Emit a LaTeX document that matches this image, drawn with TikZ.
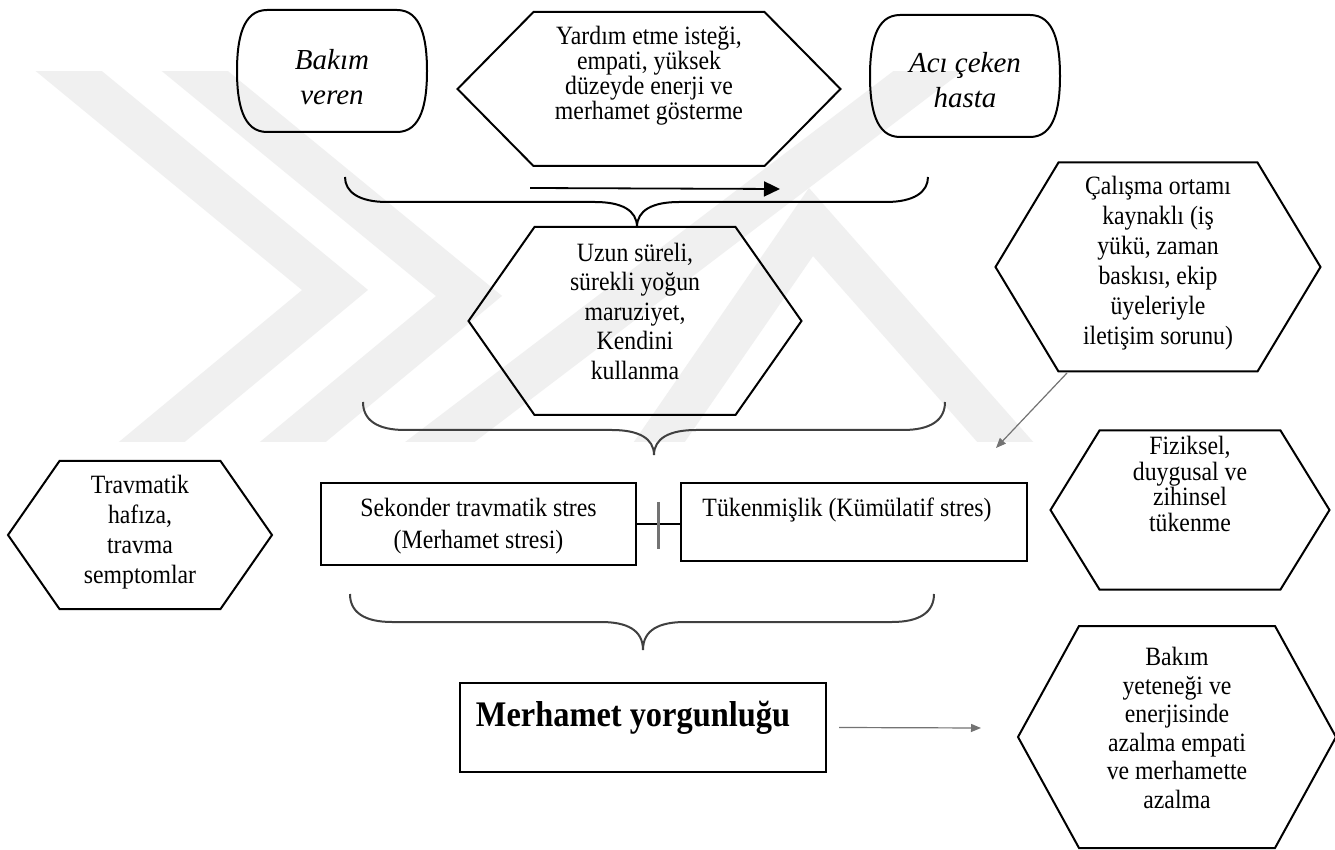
\documentclass[tikz,border=0pt]{standalone}
\usepackage{fontspec}
\setmainfont{Liberation Serif}
\newfontfamily\tallserif[FakeStretch=0.9]{Liberation Serif}
\usetikzlibrary{arrows.meta,calc}
\def\hexagon(#1,#2)(#3:#4:#5){\draw[hexline] ({#1-#4},#2) -- ({#1-#3},{#2-#5}) -- ({#1+#3},{#2-#5}) -- ({#1+#4},#2) -- ({#1+#3},{#2+#5}) -- ({#1-#3},{#2+#5}) -- cycle;}
\def\capsule(#1,#2)(#3:#4){\draw[hexline] ({#1-#3+30},{#2-#4}) -- ({#1+#3-30},{#2-#4}) .. controls ({#1+#3-6},{#2-#4}) and ({#1+#3},{#2-#4+28}) .. ({#1+#3},#2) .. controls ({#1+#3},{#2+#4-28}) and ({#1+#3-6},{#2+#4}) .. ({#1+#3-30},{#2+#4}) -- ({#1-#3+30},{#2+#4}) .. controls ({#1-#3+6},{#2+#4}) and ({#1-#3},{#2+#4-28}) .. ({#1-#3},#2) .. controls ({#1-#3},{#2-#4+28}) and ({#1-#3+6},{#2-#4}) .. cycle;}
\def\curlybrace[#1](#2:#3:#4)(#5:#6:#7){\draw[#1] (#2,#5) .. controls (#2,{#6-10}) and ({#2+14},#6) .. ({#2+42},#6) -- ({#3-42},#6) .. controls ({#3-16},#6) and (#3,{#6+8}) .. (#3,#7) .. controls (#3,{#6+8}) and ({#3+16},#6) .. ({#3+42},#6) -- ({#4-42},#6) .. controls ({#4-14},#6) and (#4,{#6-10}) .. (#4,#5);}
\tikzset{
  hexline/.style={draw, line width=1pt},
  boxline/.style={draw, line width=1.2pt, inner sep=0pt},
  txt/.style={align=center, inner sep=0pt, font=\tallserif\fontsize{13.2}{15}\selectfont},
  italictxt/.style={txt, font=\fontsize{14.5}{17.5}\selectfont\itshape},
  bracepath/.style={line width=1pt, black!75},
  band/.style={line width=21pt, black!6, line join=miter},
  grayarrow/.style={black!55, line width=0.6pt, -{Triangle[length=5pt,width=4pt]}},
}
\begin{document}
\begin{tikzpicture}[x=0.5pt, y=-0.5pt]
  \fill[white] (0,0) rectangle (1335,850);
  \useasboundingbox (0,0) rectangle (1335,850);

  % watermark
  \begin{scope}
    \clip (0,72) rectangle (1335,442);
    \draw[band] (31,40) -- (335,290) -- (118,470);
    \draw[band] (157,40) -- (469,296) -- (259,470);
    \draw[band] (969,40) -- (403,470);
    \draw[band] (640,470) -- (811,222) -- (1030,470);
  \end{scope}

  % top row
  \capsule(332,71)(95:61)
  \node[italictxt] (giver) at (332,77) {Bakım\\veren};
  \hexagon(649,89)(115.5:191.5:77)
  \node[txt, font=\tallserif\fontsize{13.2}{12.5}\selectfont] (wish) at (649,76) {Yardım etme isteği,\\ empati, yüksek\\ düzeyde enerji ve\\ merhamet gösterme};
  \capsule(965,76)(95:61)
  \node[italictxt] (patient) at (965,80) {Acı çeken\\hasta};

  \curlybrace[bracepath, black](345:637:928)(177:202:227)
  \coordinate (flowstart) at (530,188);
  \coordinate (flowend) at (780,189);
  \draw[line width=0.9pt, -{Triangle[length=8pt,width=7.5pt]}] (flowstart) -- (flowend);

  \hexagon(635,321)(100.5:166.5:94)
  \node[txt, font=\tallserif\fontsize{13.2}{14.75}\selectfont] (exposure) at (635,311) {Uzun süreli,\\ sürekli yoğun\\ maruziyet,\\ Kendini\\ kullanma};

  \hexagon(1158,267)(99.5:162.5:104.5)
  \node[txt] (workplace) at (1158,263) {Çalışma ortamı\\ kaynaklı (iş\\ yükü, zaman\\ baskısı, ekip\\ üyeleriyle\\ iletişim sorunu)};
  \coordinate (workfoot) at (1067,373);
  \coordinate (workhit) at (996,448);
  \draw[grayarrow] (workfoot) -- (workhit);

  \curlybrace[bracepath](363:654:945)(402:430:455)

  % middle row
  \hexagon(140,535)(80.5:132:74)
  \node[txt] (trauma) at (140,532) {Travmatik\\ hafıza,\\ travma\\ semptomlar};
  \node[boxline, minimum width=157.5pt, minimum height=41pt] (secondary) at (478.5,524) {};
  \node[txt, font=\tallserif\fontsize{13.2}{16}\selectfont] (secondarytext) at (478.5,526) {Sekonder travmatik stres\\ (Merhamet stresi)};
  \node[boxline, minimum width=173pt, minimum height=39pt] (burnout) at (854,522) {};
  \node[txt] (burnouttext) at (847,510) {Tükenmişlik (Kümülatif stres)};
  \draw[line width=0.9pt] (secondary.east) -- (secondary.east -| burnout.west);
  \draw[line width=1.6pt, black!55] ($(secondary.east)!0.5!(burnout.west)$) ++(0,-21) -- ++(0,47);

  \hexagon(1190,510)(90.5:139.5:79.5)
  \node[txt, font=\tallserif\fontsize{13.2}{12.7}\selectfont] (exhaustion) at (1190,484) {Fiziksel,\\ duygusal ve\\ zihinsel\\ tükenme};

  \curlybrace[bracepath](350:643:934)(594:622:650)

  % bottom row
  \node[boxline, minimum width=183pt, minimum height=44.5pt] (fatigue) at (643,727.5) {};
  \node[font=\tallserif\fontsize{18}{20}\selectfont\bfseries, inner sep=0pt] (fatiguetext) at (633,718) {Merhamet yorgunluğu};
  \coordinate (outcome) at (981,728);
  \draw[grayarrow] ([xshift=6pt]fatigue.east) -- (outcome);
  \hexagon(1177,737)(98:159:111)
  \node[txt, font=\tallserif\fontsize{13.2}{14.25}\selectfont] (decline) at (1177,728) {Bakım\\ yeteneği ve\\ enerjisinde\\ azalma empati\\ ve merhamette\\ azalma};
\end{tikzpicture}
\end{document}
